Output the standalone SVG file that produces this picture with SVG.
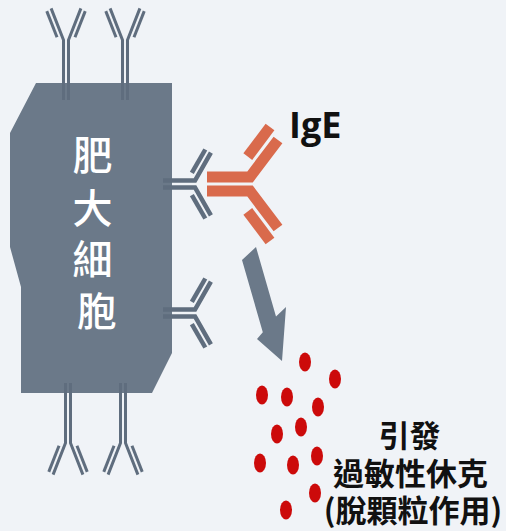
<svg xmlns="http://www.w3.org/2000/svg" xmlns:xlink="http://www.w3.org/1999/xlink" width="506" height="531" viewBox="0 0 506 531">
  <style>
    .bg { fill: #f0f3f7; }
    .cell { fill: #6b7989; }
    .ab path { fill: none; stroke: #5f6d7e; stroke-linecap: butt; stroke-linejoin: miter; }
    .ab-a path { stroke-width: 3; }
    .ab-b path { stroke-width: 4.5; }
    .ige path { fill: none; stroke: #d96a4c; stroke-width: 11; stroke-linecap: butt; stroke-linejoin: miter; }
    .arrow { fill: #6b7989; }
    .granule { fill: #cc0a0a; }
    .cell-label { font-family: "Noto Sans CJK TC", "Noto Sans CJK SC", sans-serif; font-size: 40px; font-weight: 500; fill: #ffffff; text-anchor: middle; }
    .note { font-family: "Noto Sans CJK TC", "Noto Sans CJK SC", sans-serif; font-size: 31px; font-weight: 700; fill: #111111; text-anchor: middle; }
    .ige-label { font-family: "Open Sans", "Liberation Sans", sans-serif; font-size: 36px; font-weight: 700; fill: #111111; }
  </style>
  <defs>
    <!-- receptor antibody, narrow arms: fork at origin, stem along +y -->
    <g id="antibody-narrow" class="ab ab-a">
      <path d="M-2.5,60 V0 L-14.9,-31.6"/>
      <path d="M2.5,60 V0 L14.9,-31.6"/>
      <path d="M-8.98,-2.82 L-19.23,-28.86"/>
      <path d="M8.98,-2.82 L19.23,-28.86"/>
    </g>
    <!-- receptor antibody, wide arms: fork at origin, stem along +y -->
    <g id="antibody-wide" class="ab ab-b">
      <path d="M-3.5,32 V0 L-31.3,-15.9"/>
      <path d="M3.5,32 V0 L31.3,-15.9"/>
      <path d="M-11.06,3.16 L-34.5,-10.3"/>
      <path d="M11.06,3.16 L34.5,-10.3"/>
    </g>
  </defs>

  <rect class="bg" x="0" y="0" width="506" height="531"/>

  <g id="mast-cell">
    <polygon class="cell" points="36,83 172,83 172,353 152,393 21,393 21,287 10,247 10,133"/>
    <text class="cell-label">
      <tspan x="97" y="170">肥</tspan>
      <tspan x="97" y="223">大</tspan>
      <tspan x="97" y="274">細</tspan>
      <tspan x="97" y="326">胞</tspan>
    </text>
  </g>

  <g id="receptors">
    <use xlink:href="#antibody-narrow" transform="translate(66,40)"/>
    <use xlink:href="#antibody-narrow" transform="translate(125,40)"/>
    <use xlink:href="#antibody-narrow" transform="translate(68,443) rotate(180)"/>
    <use xlink:href="#antibody-narrow" transform="translate(123,443) rotate(180)"/>
    <use xlink:href="#antibody-wide" transform="translate(195,184) rotate(90)"/>
    <use xlink:href="#antibody-wide" transform="translate(195,313) rotate(90)"/>
  </g>

  <g id="ige" class="ige">
    <path d="M207,177 H250 L278,140"/>
    <path d="M207,191 H250 L278,228"/>
    <path d="M247.8,156.6 L270,127"/>
    <path d="M247.8,211.4 L270,241"/>
  </g>
  <g id="ige-label">
    <text class="ige-label" x="289" y="138">IgE</text>
  </g>

  <g id="connectors">
    <polygon class="arrow" points="242,260 256,247 276,316.5 286,307 282,361 257,339 262.8,332.2"/>
  </g>

  <g id="granules">
    <ellipse class="granule" cx="305" cy="362" rx="6" ry="9.5"/>
    <ellipse class="granule" cx="335" cy="379" rx="6" ry="9.5"/>
    <ellipse class="granule" cx="262" cy="395" rx="6" ry="9.5"/>
    <ellipse class="granule" cx="287" cy="397" rx="6" ry="9.5"/>
    <ellipse class="granule" cx="318" cy="407" rx="6" ry="9.5"/>
    <ellipse class="granule" cx="301" cy="427" rx="6" ry="9.5"/>
    <ellipse class="granule" cx="277" cy="434" rx="6" ry="9.5"/>
    <ellipse class="granule" cx="317" cy="456" rx="6" ry="9.5"/>
    <ellipse class="granule" cx="260" cy="463" rx="6" ry="9.5"/>
    <ellipse class="granule" cx="293" cy="465" rx="6" ry="9.5"/>
    <ellipse class="granule" cx="315" cy="493" rx="6" ry="9.5"/>
    <ellipse class="granule" cx="286" cy="510" rx="6" ry="9.5"/>
  </g>

  <g id="effect-label">
    <text class="note">
      <tspan x="413" y="447">引發</tspan>
      <tspan x="414" y="485">過敏性休克</tspan>
      <tspan x="413" y="522">(脫顆粒作用)</tspan>
    </text>
  </g>
</svg>
